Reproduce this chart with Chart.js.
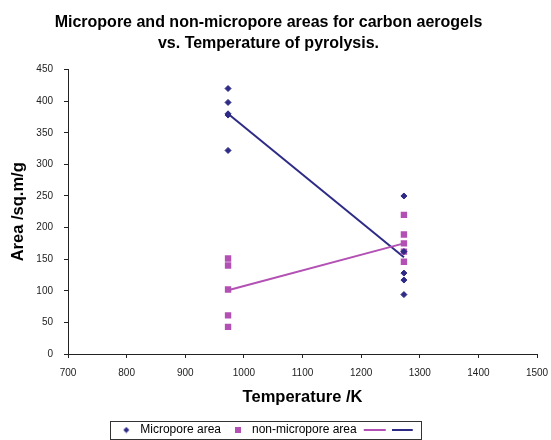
<!DOCTYPE html>
<html>
<head>
<meta charset="utf-8">
<script src="https://cdn.jsdelivr.net/npm/chart.js@4.4.1/dist/chart.umd.min.js"></script>
<style>
  body { margin: 0; background: #fff; }
  #wrap { width: 551px; height: 440px; }
</style>
</head>
<body>
<div id="wrap"><canvas id="myChart"></canvas></div>
<script>
// pyrolysis temperatures (K) and measured areas (sq.m/g)
const microTemp = [973, 973, 973, 973, 973, 1273, 1273, 1273, 1273, 1273];
const microArea = [420, 398, 380, 378, 322, 250, 162, 128, 117, 94];
const nonMicroTemp = [973, 973, 973, 973, 973, 1273, 1273, 1273, 1273, 1273];
const nonMicroArea = [151, 140, 102, 61, 43, 220, 189, 175, 162, 146];
// trend lines through the group averages
const trendTemp = [973, 1273];
const microTrend = [380, 153];
const nonMicroTrend = [101, 175];

const NAVY = '#2D2B85';
const PINK = '#B350B3';
const FONT = '"Liberation Sans", Arial, sans-serif';

function pts(xs, ys) {
    return xs.map((x, i) => ({ x: x, y: ys[i] }));
}

// small canvases used as legend glyphs
function glyph(w, h, draw) {
    const c = document.createElement('canvas');
    c.width = w; c.height = h;
    draw(c.getContext('2d'));
    return c;
}
const legendDiamond = glyph(7, 7, g => {
    g.fillStyle = NAVY;
    g.beginPath(); g.moveTo(3.5, 0.5); g.lineTo(6.5, 3.5); g.lineTo(3.5, 6.5); g.lineTo(0.5, 3.5); g.fill();
});
const legendSquare = glyph(6, 6, g => { g.fillStyle = PINK; g.fillRect(0, 0, 6, 6); });
const legendPinkLine = glyph(26, 2, g => { g.fillStyle = PINK; g.fillRect(3, 0, 22, 2); });
const legendNavyLine = glyph(26, 2, g => { g.fillStyle = NAVY; g.fillRect(0, 0, 21, 2); });

// box drawn round the legend row
const legendFrame = {
    id: 'legendFrame',
    afterDraw(chart) {
        const boxes = chart.legend.legendHitBoxes;
        if (!boxes || !boxes.length) return;
        const left = boxes[0].left - 8;
        const last = boxes[boxes.length - 1];
        const right = last.left + last.width + 3;
        const ctx = chart.ctx;
        ctx.save();
        ctx.strokeStyle = '#333';
        ctx.lineWidth = 1;
        ctx.strokeRect(Math.round(left) + 0.5, Math.round(boxes[0].top - 3) + 0.5,
            Math.round(right - left), 18);
        ctx.restore();
    }
};

const CHART = document.getElementById('myChart');
let scatterChart = new Chart(CHART, {
    type: 'scatter',
    plugins: [legendFrame],
    data: {
        datasets: [
            {
                label: 'Micropore area',
                data: pts(microTemp, microArea),
                pointStyle: 'rectRot',
                pointRadius: 3,
                borderWidth: 1,
                backgroundColor: NAVY,
                borderColor: NAVY
            },
            {
                label: 'non-micropore area',
                data: pts(nonMicroTemp, nonMicroArea),
                pointStyle: 'rect',
                pointRadius: 4.5,
                borderWidth: 0,
                backgroundColor: PINK,
                borderColor: PINK
            },
            {
                label: '',
                type: 'line',
                data: pts(trendTemp, nonMicroTrend),
                borderColor: PINK,
                borderWidth: 2,
                pointRadius: 0,
                fill: false
            },
            {
                label: '',
                type: 'line',
                data: pts(trendTemp, microTrend),
                borderColor: NAVY,
                borderWidth: 2,
                pointRadius: 0,
                fill: false
            }
        ]
    },
    options: {
        maintainAspectRatio: false,
        responsive: true,
        animation: false,
        layout: { padding: { left: 0, right: 14, top: 0, bottom: -6 } },
        plugins: {
            tooltip: { enabled: false },
            title: {
                display: true,
                text: ['Micropore and non-micropore areas for carbon aerogels', 'vs. Temperature of pyrolysis.'],
                color: '#000',
                font: { family: FONT, size: 16, weight: 'bold', lineHeight: 1.33 },
                padding: { top: 12, bottom: 15 }
            },
            legend: {
                position: 'bottom',
                labels: {
                    color: '#000',
                    font: { family: FONT, size: 12 },
                    usePointStyle: true,
                    pointStyleWidth: 16,
                    boxHeight: 8,
                    padding: 9,
                    generateLabels: () => [
                        { text: 'Micropore area', pointStyle: legendDiamond, datasetIndex: 0, fontColor: '#000', lineWidth: 0 },
                        { text: 'non-micropore area', pointStyle: legendSquare, datasetIndex: 1, fontColor: '#000', lineWidth: 0 },
                        { text: '', pointStyle: legendPinkLine, datasetIndex: 2, fontColor: '#000', lineWidth: 0 },
                        { text: '', pointStyle: legendNavyLine, datasetIndex: 3, fontColor: '#000', lineWidth: 0 }
                    ]
                }
            }
        },
        scales: {
            x: {
                type: 'linear',
                min: 700,
                max: 1500,
                afterFit: scale => { scale.height = 61; scale.paddingRight = 0; },
                ticks: { stepSize: 100, color: '#222', padding: 9, font: { family: FONT, size: 10 },
                    callback: v => String(v) },
                grid: { drawOnChartArea: false, drawTicks: true, tickLength: 4, color: '#222' },
                border: { color: '#222', width: 1 },
                title: {
                    display: true,
                    text: 'Temperature /K',
                    color: '#000',
                    font: { family: FONT, size: 16.5, weight: 'bold' },
                    padding: { top: 4, bottom: 8 }
                }
            },
            y: {
                min: 0,
                max: 450,
                afterFit: scale => { scale.width = 68; },
                ticks: { stepSize: 50, color: '#222', padding: 11, font: { family: FONT, size: 10 } },
                grid: { drawOnChartArea: false, drawTicks: true, tickLength: 4, color: '#222' },
                border: { color: '#222', width: 1 },
                title: {
                    display: true,
                    text: 'Area /sq.m/g',
                    color: '#000',
                    font: { family: FONT, size: 16.5, weight: 'bold' },
                    padding: { top: 9, bottom: 0 }
                }
            }
        }
    }
});
</script>
</body>
</html>
